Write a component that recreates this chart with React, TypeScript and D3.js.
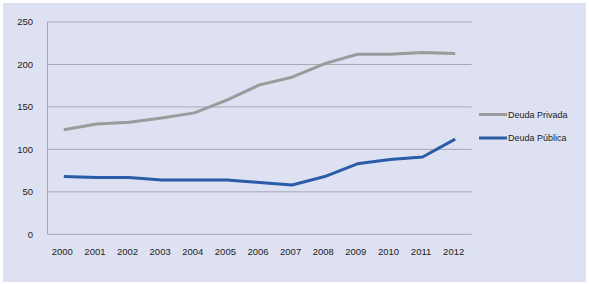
import React from "react";
import * as d3 from "d3";

const years = ["2000","2001","2002","2003","2004","2005","2006","2007","2008","2009","2010","2011","2012"];
const privada = [123, 130, 132, 137, 143, 158, 176, 185, 201, 212, 212, 214, 213];
const publica = [68, 67, 67, 64, 64, 64, 61, 58, 68, 83, 88, 91, 112];
const yTicks = [0, 50, 100, 150, 200, 250];
const seriesNames = ["Deuda Privada", "Deuda Pública"];
const seriesColors = ["#9b9b9b", "#2b5ca8"];

const W = 589, H = 284;
const left = 47.5, right = 471.5, top = 22, bottom = 234.3;

export default function App() {
  const x = d3.scaleBand<string>().domain(years).range([left, right]);
  const y = d3.scaleLinear().domain([0, 250]).range([bottom, top]);
  const line = d3.line<number>().x((_, i) => (x(years[i]) as number) + x.bandwidth() / 2).y(d => y(d)).curve(d3.curveLinear);
  const series = [privada, publica];
  const font = "'Liberation Sans', Arial, Helvetica, sans-serif";
  return (
    <div style={{ position: "absolute", left: 0, top: 0 }}>
      <svg width={W} height={H} style={{ display: "block" }}>
        <rect x={0} y={0} width={W} height={H} fill="#ffffff" />
        <rect x={3} y={3} width={583} height={279} fill="#dde1f1" />
        {yTicks.map(t => (
          <g key={t}>
            <line x1={left} x2={right} y1={y(t)} y2={y(t)} stroke="#a7a7b0" strokeWidth={1} />
            <text x={33} y={y(t)} dy="0.35em" textAnchor="end" fontFamily={font} fontSize={9.5} fill="#222">{t}</text>
          </g>
        ))}
        <line x1={left} x2={left} y1={top} y2={bottom} stroke="#a7a7b0" strokeWidth={1} />
        {years.map(yr => (
          <text key={yr} x={(x(yr) as number) + x.bandwidth() / 2 - 1.5} y={252} dy="0.35em" textAnchor="middle" fontFamily={font} fontSize={9.5} fill="#222">{yr}</text>
        ))}
        {series.map((s, i) => (
          <path key={i} d={line(s) || ""} fill="none" stroke={seriesColors[i]} strokeWidth={3} strokeLinejoin="round" strokeLinecap="butt" />
        ))}
        {seriesNames.map((n, i) => (
          <g key={n}>
            <line x1={479} x2={507} y1={114.5 + i * 23.5} y2={114.5 + i * 23.5} stroke={seriesColors[i]} strokeWidth={3} />
            <text x={508} y={114.5 + i * 23.5} dy="0.35em" fontFamily={font} fontSize={9} fill="#222">{n}</text>
          </g>
        ))}
      </svg>
    </div>
  );
}
